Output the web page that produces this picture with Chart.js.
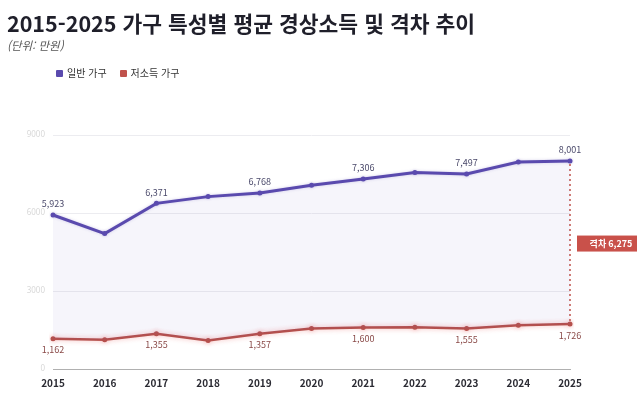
<!DOCTYPE html>
<html lang="ko">
<head>
<meta charset="utf-8">
<script src="https://cdn.jsdelivr.net/npm/chart.js@4/dist/chart.umd.min.js"></script>
<style>
  html, body { margin: 0; padding: 0; background: #fff; }
  body { width: 637px; height: 394px; position: relative; overflow: hidden; font-family: "Noto Sans CJK KR", "Noto Sans", sans-serif; }
  #title { position: absolute; left: 7px; top: 7px; font-size: 21.5px; font-weight: 700; color: #1f1f2a; white-space: nowrap; }
  #sub { position: absolute; left: 7px; top: 37px; font-size: 11.5px; font-style: italic; color: #555; }
  #legend { position: absolute; left: 56px; top: 65px; font-size: 10px; color: #333; display: flex; gap: 13px; }
  #legend span.sw { display: inline-block; width: 7px; height: 7px; border-radius: 1px; margin-right: 4px; vertical-align: 0px; }
  #wrap { position: absolute; left: 0; top: 0; width: 637px; height: 394px; }
  canvas { display: block; }
</style>
</head>
<body>
<div id="wrap"><canvas id="chart" width="637" height="394"></canvas></div>
<div id="title">2015-2025 가구 특성별 평균 경상소득 및 격차 추이</div>
<div id="sub">(단위: 만원)</div>
<div id="legend"></div>
<script>
// data (만원)
const years = ['2015', '2016', '2017', '2018', '2019', '2020', '2021', '2022', '2023', '2024', '2025'];
const generalHH = [5923, 5210, 6371, 6630, 6768, 7070, 7306, 7560, 7497, 7960, 8001];
const lowIncomeHH = [1162, 1125, 1355, 1100, 1357, 1560, 1600, 1610, 1555, 1680, 1726];
const yTicks = [0, 3000, 6000, 9000];

const purple = '#5a4aae';
const red = '#c0524c';

// legend in html
const legendEl = document.getElementById('legend');
[['일반 가구', purple], ['저소득 가구', red]].forEach(([name, col]) => {
  const item = document.createElement('div');
  item.innerHTML = `<span class="sw" style="background:${col}"></span>${name}`;
  legendEl.appendChild(item);
});

const fmt = v => v.toLocaleString('en-US');

// value labels on every other point
const valueLabels = {
  id: 'valueLabels',
  afterDatasetsDraw(chart) {
    const ctx = chart.ctx;
    ctx.save();
    ctx.font = '9px "Noto Sans CJK KR", "Noto Sans", sans-serif';
    ctx.textAlign = 'center';
    ctx.textBaseline = 'middle';
    chart.data.datasets.forEach((ds, di) => {
      const meta = chart.getDatasetMeta(di);
      meta.data.forEach((pt, i) => {
        if (i % 2 !== 0) return;
        const above = di === 0;
        ctx.fillStyle = above ? '#4b4a6b' : '#8a4a48';
        ctx.fillText(fmt(ds.data[i]), pt.x, pt.y + (above ? -11 : 11));
      });
    });
    ctx.restore();
  }
};

// gap marker at the last year
const gapMarker = {
  id: 'gapMarker',
  afterDatasetsDraw(chart) {
    const ctx = chart.ctx;
    const last = years.length - 1;
    const x = chart.scales.x.getPixelForValue(last);
    const yTop = chart.scales.y.getPixelForValue(generalHH[last]);
    const yBot = chart.scales.y.getPixelForValue(lowIncomeHH[last]);
    const gap = generalHH[last] - lowIncomeHH[last];
    ctx.save();
    ctx.strokeStyle = red;
    ctx.lineWidth = 1.5;
    ctx.setLineDash([2, 3]);
    ctx.beginPath();
    ctx.moveTo(x, yTop + 3);
    ctx.lineTo(x, yBot - 3);
    ctx.stroke();
    ctx.setLineDash([]);
    const midY = (yTop + yBot) / 2 + 1;
    const bx = chart.chartArea.right + 7;
    const bw = 62, bh = 16;
    ctx.fillStyle = '#c9514a';
    ctx.fillRect(bx, midY - bh / 2, bw, bh);
    ctx.fillStyle = '#fff';
    ctx.font = 'bold 9px "Noto Sans CJK KR", "Noto Sans", sans-serif';
    ctx.textAlign = 'center';
    ctx.textBaseline = 'middle';
    ctx.fillText('격차 ' + fmt(gap), bx + bw / 2 + 3, midY + 0.5);
    ctx.restore();
  }
};

// soft glow under the lines
const glow = {
  id: 'glow',
  beforeDatasetDraw(chart, args) {
    const ctx = chart.ctx;
    ctx.save();
    if (args.index === 1) {
      ctx.shadowColor = 'rgba(230,90,90,0.45)';
      ctx.shadowBlur = 5;
    } else {
      ctx.shadowColor = 'rgba(90,74,174,0.25)';
      ctx.shadowBlur = 3;
    }
  },
  afterDatasetDraw(chart) {
    chart.ctx.restore();
  }
};

new Chart(document.getElementById('chart'), {
  type: 'line',
  data: {
    labels: years,
    datasets: [
      {
        label: '일반 가구',
        data: generalHH,
        borderColor: purple,
        backgroundColor: 'rgba(96,80,190,0.06)',
        borderWidth: 3,
        pointRadius: 2.5,
        pointBackgroundColor: purple,
        pointBorderWidth: 0,
        tension: 0,
        fill: '+1'
      },
      {
        label: '저소득 가구',
        data: lowIncomeHH,
        borderColor: '#b5504c',
        backgroundColor: '#b5504c',
        borderWidth: 2.5,
        pointRadius: 2.5,
        pointBackgroundColor: '#b5504c',
        pointBorderWidth: 0,
        tension: 0,
        fill: false
      }
    ]
  },
  options: {
    responsive: false,
    animation: false,
    layout: { padding: { left: 0, right: 67, top: 135, bottom: -3 } },
    plugins: { legend: { display: false }, tooltip: { enabled: false } },
    scales: {
      x: {
        offset: false,
        grid: { display: false, drawTicks: false },
        border: { display: true, color: '#b0b0b0', width: 1 },
        ticks: {
          padding: 8,
          color: '#2b2b33',
          font: { family: '"Noto Sans CJK KR", "Noto Sans", sans-serif', size: 10, weight: 'bold' }
        }
      },
      y: {
        min: 0,
        max: 9000,
        afterBuildTicks(axis) { axis.ticks = yTicks.map(v => ({ value: v })); },
        afterFit(axis) { axis.width = 53; },
        grid: { color: '#ececf0', drawTicks: false },
        border: { display: false },
        ticks: {
          padding: 8,
          color: '#d8d8d8',
          callback: v => String(v),
          font: { family: '"Noto Sans", sans-serif', size: 8 }
        }
      }
    }
  },
  plugins: [glow, valueLabels, gapMarker]
});
</script>
</body>
</html>
